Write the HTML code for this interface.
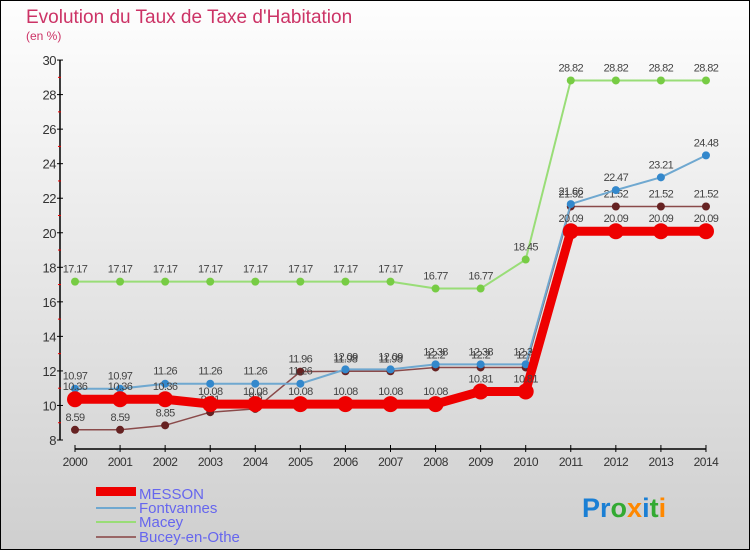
<!DOCTYPE html>
<html><head><meta charset="utf-8"><style>
html,body{margin:0;padding:0}
body{width:750px;height:550px;overflow:hidden;font-family:"Liberation Sans",sans-serif}
</style></head><body>
<svg id="chart" width="750" height="550" xmlns="http://www.w3.org/2000/svg">
<defs><linearGradient id="bg" x1="0" y1="0" x2="0" y2="1"><stop offset="0" stop-color="#fefefe"/><stop offset="1" stop-color="#cfcfcf"/></linearGradient></defs>
<rect x="0.5" y="0.5" width="749" height="549" fill="url(#bg)" stroke="#000"/>
<text x="26" y="23" font-size="19" fill="#cc3366">Evolution du Taux de Taxe d'Habitation</text>
<text x="26" y="40" font-size="12" fill="#cc3366">(en %)</text>
<g id="axes"></g>
<g id="series"></g>
<g id="legend">
<rect x="96" y="487" width="40" height="9" fill="#ee0000"/>
<text x="139" y="499" font-size="15" fill="#6666ee">MESSON</text>
<line x1="96" y1="508" x2="136" y2="508" stroke="#6fa8d0" stroke-width="2"/>
<text x="139" y="513" font-size="15" fill="#6666ee">Fontvannes</text>
<line x1="96" y1="522" x2="136" y2="522" stroke="#99dd77" stroke-width="2"/>
<text x="139" y="527" font-size="15" fill="#6666ee">Macey</text>
<line x1="96" y1="537" x2="136" y2="537" stroke="#996666" stroke-width="2"/>
<text x="139" y="542" font-size="15" fill="#6666ee">Bucey-en-Othe</text>
</g>
<text x="582" y="517" font-size="27" font-weight="bold"><tspan fill="#1a7fd4">Pr</tspan><tspan fill="#33aa33">o</tspan><tspan fill="#ff8800">x</tspan><tspan fill="#1a7fd4">i</tspan><tspan fill="#33aa33">t</tspan><tspan fill="#ff8800">i</tspan></text>
</svg>
<script>
const years = [2000,2001,2002,2003,2004,2005,2006,2007,2008,2009,2010,2011,2012,2013,2014];
const messon = [10.36,10.36,10.36,10.08,10.08,10.08,10.08,10.08,10.08,10.81,10.81,20.09,20.09,20.09,20.09];
const fontvannes = [10.97,10.97,11.26,11.26,11.26,11.26,12.09,12.09,12.38,12.38,12.38,21.66,22.47,23.21,24.48];
const macey = [17.17,17.17,17.17,17.17,17.17,17.17,17.17,17.17,16.77,16.77,18.45,28.82,28.82,28.82,28.82];
const bucey = [8.59,8.59,8.85,9.61,9.8,11.96,11.98,11.98,12.2,12.2,12.2,21.52,21.52,21.52,21.52];
const yTicks = [8,10,12,14,16,18,20,22,24,26,28,30];

const NS="http://www.w3.org/2000/svg";
const X0=75, XSTEP=45.07, Y0=440, YPU=17.27;
const xs=i=>X0+i*XSTEP;
const ys=v=>Y0-(v-8)*YPU;
function mk(tag,attrs,parent){const e=document.createElementNS(NS,tag);for(const k in attrs)e.setAttribute(k,attrs[k]);parent.appendChild(e);return e;}
const axes=document.getElementById('axes');
let a=mk('line',{x1:60,y1:ys(30),x2:60,y2:ys(8),stroke:'#000','stroke-width':1.5},axes);


yTicks.forEach((t,i)=>{
  mk('line',{x1:57,y1:ys(t),x2:63,y2:ys(t),stroke:'#000'},axes);
  if(i<yTicks.length-1) mk('line',{x1:58,y1:ys(t+1),x2:61,y2:ys(t+1),stroke:'#ee0000'},axes);
  const tx=mk('text',{x:56,y:ys(t)+5,'font-size':13,'text-anchor':'end',fill:'#333','letter-spacing':'-0.5'},axes);
  tx.textContent=t;
  
  
});
let xa=mk('line',{x1:xs(0),y1:449,x2:xs(14),y2:449,stroke:'#000','stroke-width':1.5},axes);


years.forEach((y,i)=>{
  mk('line',{x1:xs(i),y1:445,x2:xs(i),y2:452,stroke:'#000'},axes);
  const tx=mk('text',{x:xs(i),y:466,'font-size':12,'text-anchor':'middle',fill:'#333','letter-spacing':'-0.5'},axes);
  tx.textContent=y;
  
  
});
const sg=document.getElementById('series');
function draw(name,vals,color,dot,w,r){
  const g=mk('g',{},sg);
  
  
  const pl=mk('polyline',{points:vals.map((v,i)=>xs(i)+','+ys(v)).join(' '),fill:'none',stroke:color,'stroke-width':w,'stroke-linejoin':'round'},g);
  
  
  vals.forEach((v,i)=>{
    const c=mk('circle',{cx:xs(i),cy:ys(v),r:r,fill:dot},g);
    
    
    const t=mk('text',{x:xs(i),y:ys(v)-9,'font-size':11,'text-anchor':'middle',fill:'#444','letter-spacing':'-0.6'},g);
    t.textContent=v;
    
    
  });
}
draw('macey',macey,'#99dd77','#77cc44',2,4);
draw('bucey',bucey,'#8a4a4a','#662222',1.5,4);
draw('fontvannes',fontvannes,'#6fa8d0','#3388cc',2,4);
draw('messon',messon,'#ee0000','#ee0000',9,8);
</script>
</body></html>
